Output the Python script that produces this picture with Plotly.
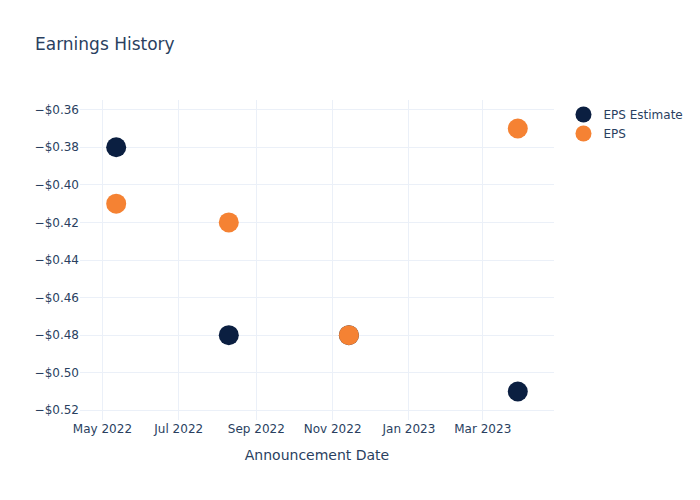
import plotly.graph_objects as go

dates = ["2022-05-12", "2022-08-10", "2022-11-14", "2023-03-29"]
eps_estimate = [-0.38, -0.48, -0.48, -0.51]
eps_actual = [-0.41, -0.42, -0.48, -0.37]

fig = go.Figure()
fig.add_trace(go.Scatter(x=dates, y=eps_estimate, mode="markers", name="EPS Estimate",
                         marker=dict(color="#0b1f41", size=20)))
fig.add_trace(go.Scatter(x=dates, y=eps_actual, mode="markers", name="EPS",
                         marker=dict(color="#f58233", size=20)))
fig.update_layout(
    template="plotly_white",
    width=700, height=500,
    font=dict(family="DejaVu Sans"),
    title=dict(text="Earnings History"),
    xaxis=dict(title=dict(text="Announcement Date"), tickformat="%b %Y", dtick="M2"),
    yaxis=dict(tickformat="$.2f", dtick=0.02),
)
fig.write_html("out.html")
